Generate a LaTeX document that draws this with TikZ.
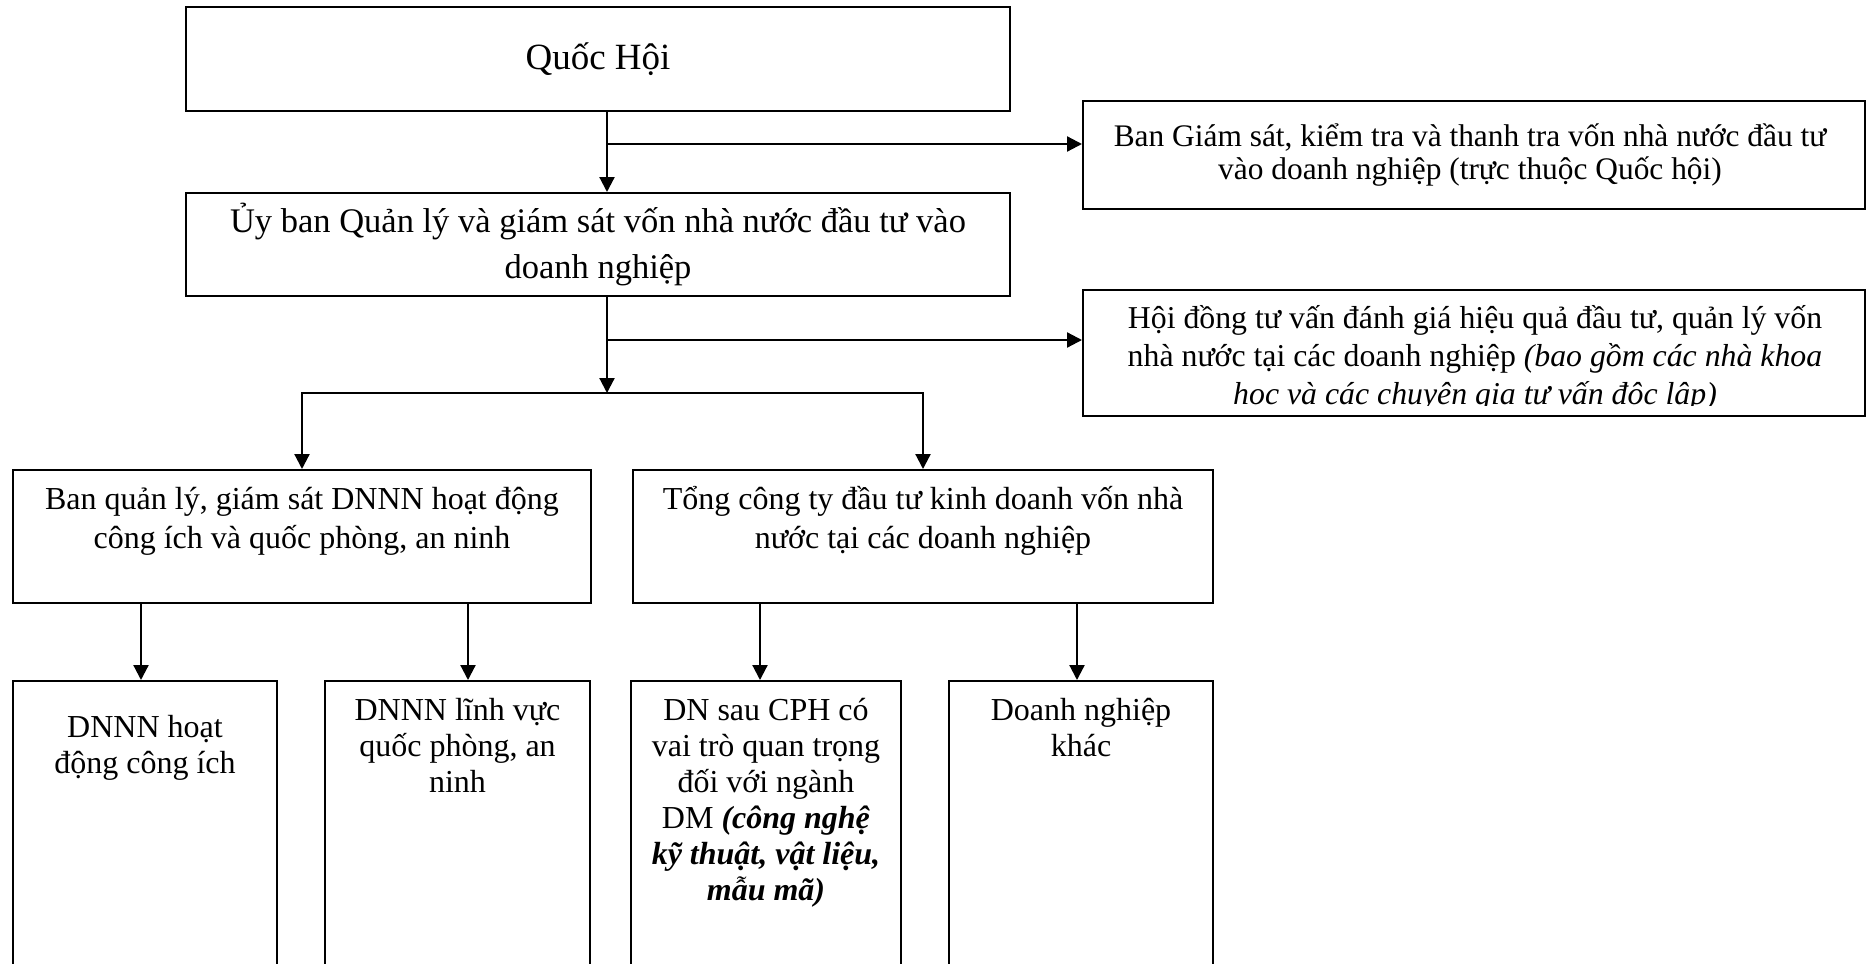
\documentclass[tikz,border=0pt]{standalone}
\usepackage{fontspec}
\setmainfont{Liberation Serif}
\usetikzlibrary{arrows.meta}

% centred block of lines whose baseline is the baseline of its first line;
% rows are always exactly one \baselineskip apart
\newcommand\mlines[1]{\vtop{\lineskiplimit=-\maxdimen\lineskip=0pt
  \halign{\hfil##\hfil\cr#1\crcr}}}

\tikzset{
  box/.style={draw, line width=1pt, rectangle, inner sep=0pt},
  txt/.style={inner sep=0pt, anchor=base},
  fqh/.style={font=\fontsize{18.5}{22}\selectfont},
  fub/.style={font=\fontsize{17.25}{23}\selectfont},
  fgs/.style={font=\fontsize{15.7}{16.5}\selectfont},
  fmid/.style={font=\fontsize{15.9}{19}\selectfont},
  fmidb/.style={font=\fontsize{16}{19.5}\selectfont},
  flow/.style={font=\fontsize{16}{18}\selectfont},
  link/.style={line width=1.1pt},
  arr/.style={link, -{Triangle[length=7.5pt,width=7.5pt]}},
}

\begin{document}
\begin{tikzpicture}[x=0.5pt,y=-0.5pt]
\clip (0,0) rectangle (1867,963);
\fill[white] (0,0) rectangle (1867,963);

% boxes
\node[box, minimum width=412pt, minimum height=52pt]   (qh)  at (598,59) {};
\node[box, minimum width=391pt, minimum height=54pt]   (bgs) at (1474,155) {};
\node[box, minimum width=412pt, minimum height=51.5pt] (ub)  at (598,244.5) {};
\node[box, minimum width=391pt, minimum height=63pt]   (hd)  at (1474,353) {};
\node[box, minimum width=289pt, minimum height=66.5pt] (bql) at (302,536.5) {};
\node[box, minimum width=290pt, minimum height=66.5pt] (tct) at (923,536.5) {};
\node[box, minimum width=132pt, minimum height=159.5pt]   (b1) at (145,840.5) {};
\node[box, minimum width=132.5pt, minimum height=159.5pt] (b2) at (457.5,840.5) {};
\node[box, minimum width=135pt, minimum height=159.5pt]   (b3) at (766,840.5) {};
\node[box, minimum width=132pt, minimum height=159.5pt]   (b4) at (1081,840.5) {};

% texts
\node[txt, fqh]  (tqh)  at (598,70)  {Quốc Hội};
\node[txt, fgs]  (tbgs) at (1470,147) {\mlines{Ban Giám sát, kiểm tra và thanh tra vốn nhà nước đầu tư\cr
  vào doanh nghiệp (trực thuộc Quốc hội)}};
\node[txt, fub]  (tub)  at (598,232) {\mlines{Ủy ban Quản lý và giám sát vốn nhà nước đầu tư vào\cr
  doanh nghiệp}};
% the last line of this box is cut off just below its baseline
\coordinate (hdcut) at (0,405.5);
\begin{scope}
  \clip (hd.north west) rectangle (hd.east |- hdcut);
  \node[txt, fmid] (thd) at (1475,328) {\mlines{Hội đồng tư vấn đánh giá hiệu quả đầu tư, quản lý vốn\cr
    nhà nước tại các doanh nghiệp \textit{(bao gồm các nhà khoa}\cr
    \textit{học và các chuyên gia tư vấn độc lập)}}};
\end{scope}
\node[txt, fmidb] (tbql) at (302,509) {\mlines{Ban quản lý, giám sát DNNN hoạt động\cr
  công ích và quốc phòng, an ninh}};
\node[txt, fmidb] (ttct) at (923,509) {\mlines{Tổng công ty đầu tư kinh doanh vốn nhà\cr
  nước tại các doanh nghiệp}};
\node[txt, flow] (tb1) at (145,737) {\mlines{DNNN hoạt\cr động công ích}};
\node[txt, flow] (tb2) at (457.5,720) {\mlines{DNNN lĩnh vực\cr quốc phòng, an\cr ninh}};
\node[txt, flow] (tb3) at (766,720) {\mlines{DN sau CPH có\cr vai trò quan trọng\cr đối với ngành\cr
  DM \textbf{\textit{(công nghệ}}\cr \textbf{\textit{kỹ thuật, vật liệu,}}\cr \textbf{\textit{mẫu mã)}}}};
\node[txt, flow] (tb4) at (1081,720) {\mlines{Doanh nghiệp\cr khác}};

% connector columns and junctions
\coordinate (s1) at (607,0);
\coordinate (j1) at (607,144);
\coordinate (j2) at (607,340);
\coordinate (split) at (607,393);
\coordinate (c1) at (141,0);
\coordinate (c2) at (468,0);
\coordinate (c3) at (760,0);
\coordinate (c4) at (1077,0);

% connectors
\draw[arr] (qh.south -| s1) -- (ub.north -| s1);
\draw[arr] (j1) -- (j1 -| bgs.west);
\draw[arr] (ub.south -| s1) -- (split);
\draw[arr] (j2) -- (j2 -| hd.west);
\draw[arr] (split) -| (bql.north);
\draw[arr] (split) -| (tct.north);
\draw[arr] (bql.south -| c1) -- (b1.north -| c1);
\draw[arr] (bql.south -| c2) -- (b2.north -| c2);
\draw[arr] (tct.south -| c3) -- (b3.north -| c3);
\draw[arr] (tct.south -| c4) -- (b4.north -| c4);
\end{tikzpicture}
\end{document}
